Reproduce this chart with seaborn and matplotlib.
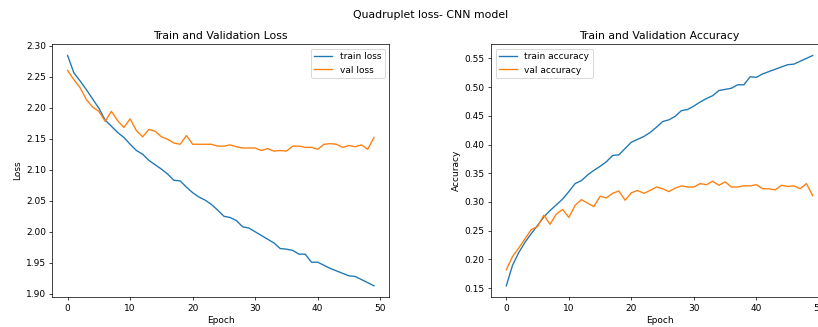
import numpy as np
import pandas as pd
import matplotlib
matplotlib.use("Agg")
import matplotlib.pyplot as plt
import seaborn as sns

epochs = list(range(50))

train_loss = [2.284, 2.256, 2.243, 2.229, 2.214, 2.199, 2.180, 2.170, 2.160, 2.152,
              2.141, 2.131, 2.125, 2.115, 2.108, 2.101, 2.093, 2.083, 2.082, 2.072,
              2.063, 2.056, 2.051, 2.044, 2.035, 2.025, 2.023, 2.018, 2.008, 2.006,
              2.000, 1.994, 1.988, 1.982, 1.973, 1.972, 1.970, 1.964, 1.964, 1.951,
              1.951, 1.946, 1.941, 1.937, 1.933, 1.929, 1.928, 1.923, 1.918, 1.913]
val_loss = [2.260, 2.245, 2.232, 2.213, 2.201, 2.194, 2.178, 2.194, 2.179, 2.168,
            2.182, 2.163, 2.153, 2.165, 2.162, 2.153, 2.149, 2.143, 2.141, 2.155,
            2.141, 2.141, 2.141, 2.141, 2.138, 2.138, 2.140, 2.137, 2.135, 2.135,
            2.135, 2.131, 2.134, 2.130, 2.131, 2.130, 2.138, 2.138, 2.136, 2.136,
            2.133, 2.141, 2.142, 2.141, 2.136, 2.139, 2.137, 2.140, 2.133, 2.152]
train_acc = [0.154, 0.190, 0.212, 0.230, 0.245, 0.259, 0.274, 0.285, 0.295, 0.305,
             0.318, 0.332, 0.337, 0.347, 0.355, 0.362, 0.370, 0.381, 0.382, 0.393,
             0.404, 0.409, 0.414, 0.421, 0.430, 0.440, 0.443, 0.449, 0.459, 0.461,
             0.467, 0.474, 0.480, 0.485, 0.494, 0.496, 0.498, 0.504, 0.504, 0.518,
             0.517, 0.523, 0.527, 0.531, 0.535, 0.539, 0.540, 0.545, 0.550, 0.555]
val_acc = [0.182, 0.205, 0.220, 0.236, 0.252, 0.257, 0.277, 0.261, 0.279, 0.287,
           0.273, 0.294, 0.304, 0.298, 0.292, 0.310, 0.307, 0.315, 0.319, 0.303,
           0.316, 0.320, 0.315, 0.320, 0.326, 0.323, 0.318, 0.324, 0.328, 0.326,
           0.326, 0.332, 0.330, 0.336, 0.329, 0.335, 0.326, 0.326, 0.328, 0.328,
           0.330, 0.323, 0.323, 0.321, 0.329, 0.327, 0.328, 0.323, 0.332, 0.311]

DPI = 65
fig = plt.figure(figsize=(818 / DPI, 327 / DPI), dpi=DPI)
W, H = 818, 327
ax1 = fig.add_axes([52.3 / W, (H - 297.3) / H, 337 / W, (297.3 - 44) / H])
ax2 = fig.add_axes([491 / W, (H - 297.3) / H, 337 / W, (297.3 - 44) / H])

sns.lineplot(x=epochs, y=train_loss, label="train loss", ax=ax1, color="tab:blue")
sns.lineplot(x=epochs, y=val_loss, label="val loss", ax=ax1, color="tab:orange")
ax1.set_title("Train and Validation Loss")
ax1.set_xlabel("Epoch")
ax1.set_ylabel("Loss")
ax1.legend(loc="upper right")

sns.lineplot(x=epochs, y=train_acc, label="train accuracy", ax=ax2, color="tab:blue")
sns.lineplot(x=epochs, y=val_acc, label="val accuracy", ax=ax2, color="tab:orange")
ax2.set_title("Train and Validation Accuracy")
ax2.set_xlabel("Epoch")
ax2.set_ylabel("Accuracy")
ax2.legend(loc="upper left")

fig.text(431 / W, 1 - 15.5 / H, "Quadruplet loss- CNN model", ha="center", va="center", fontsize=12)

fig.savefig("out.png", dpi=DPI)
